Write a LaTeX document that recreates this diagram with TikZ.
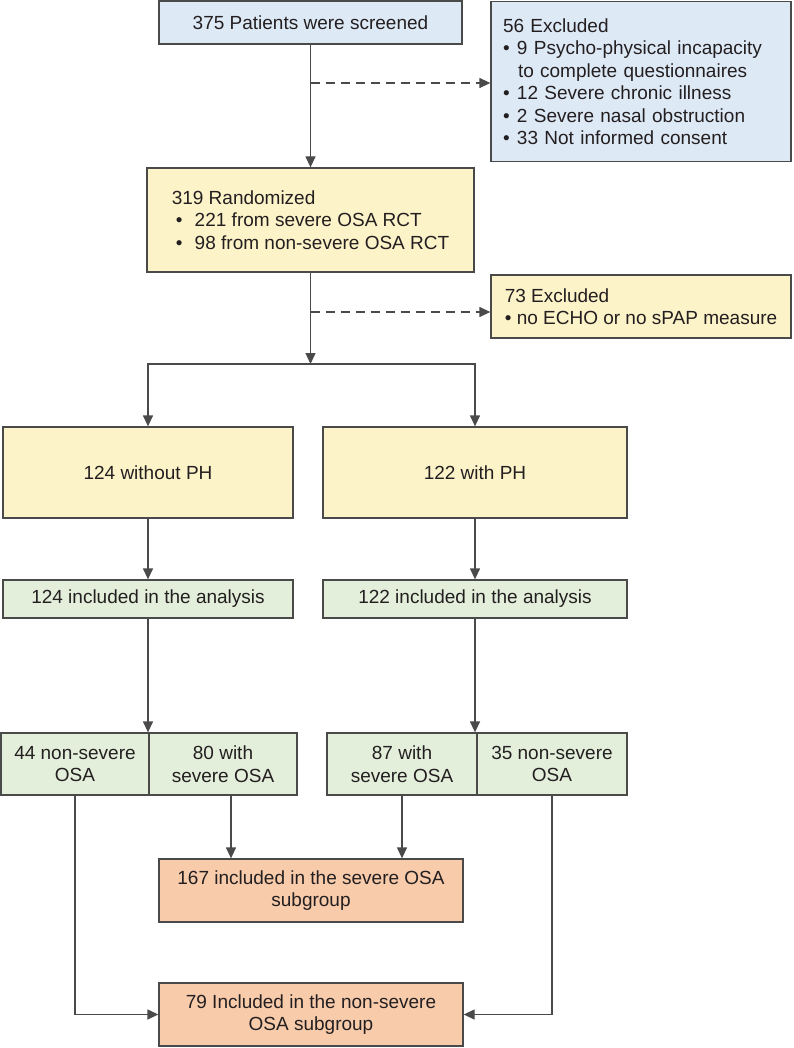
\documentclass[tikz,border=0pt]{standalone}
\usepackage{fontspec}
\setmainfont{Liberation Sans}
\usetikzlibrary{arrows.meta}
\definecolor{cblue}{HTML}{DEE9F6}
\definecolor{cyel}{HTML}{FDF3C9}
\definecolor{cgreen}{HTML}{E3EFDB}
\definecolor{corange}{HTML}{F8CBAB}
\definecolor{cline}{HTML}{4A4A4A}
\definecolor{ctext}{HTML}{231F20}
\tikzset{
  box/.style={draw=cline, line width=1.3pt, rectangle, inner sep=0pt, text=ctext,
    font=\fontsize{19}{22.5}\selectfont, align=center},
  arr/.style={draw=cline, line width=1.3pt, -{Triangle[width=10pt,length=11pt]}},
  dsh/.style={arr, dash pattern=on 9pt off 6pt}
}
\newcommand{\bul}{\makebox[14pt][l]{\textbullet}}
\begin{document}
\begin{tikzpicture}[x=1pt,y=-1pt]
\useasboundingbox (0,0) rectangle (794,1048);
% top
\node[box, fill=cblue, minimum width=303pt, minimum height=43pt] (b1) at (310.5,22.5) {375 Patients were screened};
\node[box, fill=cblue, minimum width=300pt, minimum height=160pt, text width=276pt, align=left] (b2) at (641,81.5)
  {56 Excluded\\ \bul 9 Psycho-physical incapacity\\ \hspace*{15pt}to complete questionnaires\\ \bul 12 Severe chronic illness\\ \bul 2 Severe nasal obstruction\\ \bul 33 Not informed consent};
\node[box, fill=cyel, minimum width=327pt, minimum height=104pt, align=left] (b3) at (310.5,220)
  {319 Randomized\\ \hspace*{4pt}\makebox[19pt][l]{\textbullet}221 from severe OSA RCT\\ \hspace*{4pt}\makebox[19pt][l]{\textbullet}98 from non-severe OSA RCT};
\node[box, fill=cyel, minimum width=300pt, minimum height=63pt, align=left, font=\fontsize{19}{22}\selectfont] (b4) at (641,306.5)
  {73 Excluded\\ \makebox[12pt][l]{\textbullet}no ECHO or no sPAP measure};
% PH groups
\node[box, fill=cyel, minimum width=290pt, minimum height=91pt] (b5) at (148,472.5) {124 without PH};
\node[box, fill=cyel, minimum width=304pt, minimum height=91pt] (b6) at (475,472.5) {122 with PH};
\node[box, fill=cgreen, minimum width=290pt, minimum height=38pt] (b7) at (148,599) {124 included in the analysis};
\node[box, fill=cgreen, minimum width=304pt, minimum height=38pt] (b8) at (475,599) {122 included in the analysis};
% split boxes
\node[box, fill=cgreen, minimum width=148pt, minimum height=62pt] (s1) at (75,764) {44 non-severe\\OSA};
\node[box, fill=cgreen, minimum width=148pt, minimum height=62pt] (s2) at (223,764) {80 with\\severe OSA};
\node[box, fill=cgreen, minimum width=150pt, minimum height=62pt] (s3) at (402,764) {87 with\\severe OSA};
\node[box, fill=cgreen, minimum width=150pt, minimum height=62pt] (s4) at (552,764) {35 non-severe\\OSA};
% subgroups
\node[box, fill=corange, minimum width=304pt, minimum height=63pt] (b9) at (311,890.5) {167 included in the severe OSA\\subgroup};
\node[box, fill=corange, minimum width=304pt, minimum height=63pt] (b10) at (311,1014.5) {79 Included in the non-severe\\OSA subgroup};
% connectors
\draw[arr] (b1.south) -- (b3.north);
\coordinate (d1) at (310.5,83);
\draw[dsh] (d1) -- (d1 -| b2.west);
\coordinate (d2) at (310.5,312);
\draw[dsh] (d2) -- (d2 -| b4.west);
\coordinate (j) at (310.5,364);
\draw[arr] (b3.south) -- (j);
\draw[arr] (j) -| (b5.north);
\draw[arr] (j) -| (b6.north);
\draw[arr] (b5.south) -- (b7.north);
\draw[arr] (b6.south) -- (b8.north);
\draw[arr] (b7.south) -- (b7.south |- s1.north);
\draw[arr] (b8.south) -- (b8.south |- s3.north);
\draw[arr] (s2.south) ++(8,0) coordinate (s2b) -- (s2b |- b9.north);
\draw[arr] (s3.south) -- (s3.south |- b9.north);
\draw[arr] (s1.south) -- (s1.south |- b10.west) -- (b10.west);
\draw[arr] (s4.south) -- (s4.south |- b10.east) -- (b10.east);
\end{tikzpicture}
\end{document}
